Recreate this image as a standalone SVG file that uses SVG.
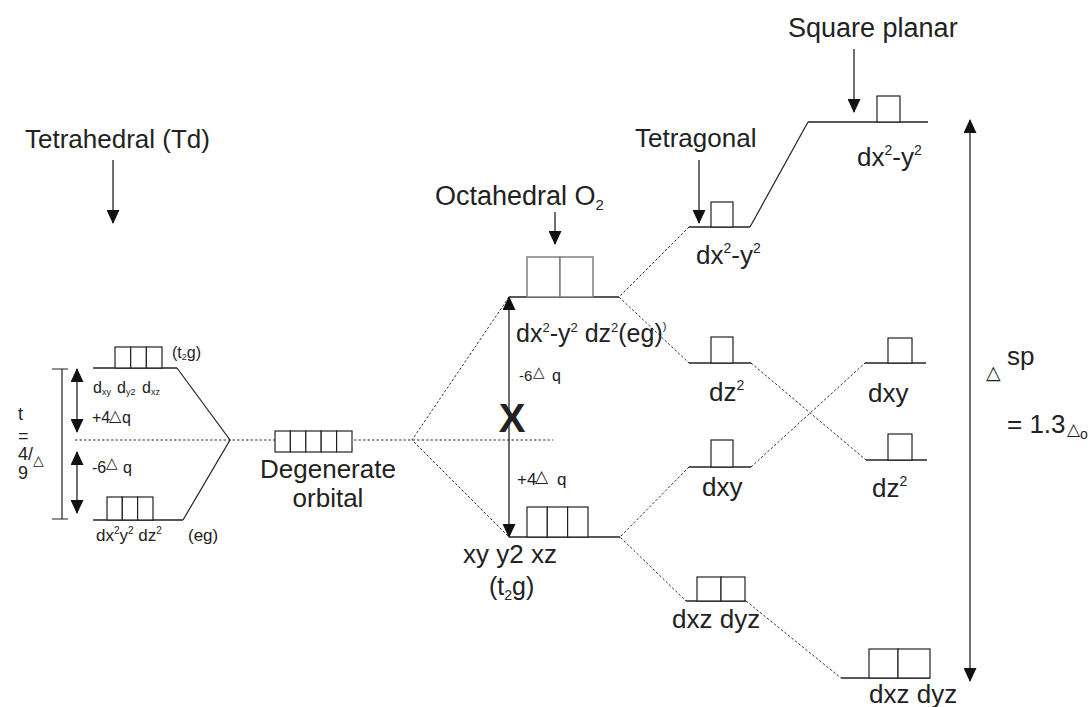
<svg xmlns="http://www.w3.org/2000/svg" width="1091" height="707" viewBox="0 0 1091 707">
<defs>
<marker id="ah" viewBox="0 0 14 13" refX="13" refY="6.5" markerWidth="14" markerHeight="13" markerUnits="userSpaceOnUse" orient="auto-start-reverse"><path d="M0,0 L14,6.5 L0,13 z" fill="#111"/></marker>
<style>
text{font-family:"Liberation Sans",Arial,sans-serif;fill:#222}
.t26{font-size:26px}
.t17{font-size:17px}
.tri{font-family:"DejaVu Sans",sans-serif}
.lvl{stroke:#222;stroke-width:1.4;fill:none}
.box{stroke:#222;stroke-width:1.2;fill:#fff}
.gbox{stroke:#777;stroke-width:1.4;fill:#fff}
.dash{stroke:#333;stroke-width:1;stroke-dasharray:2.5 2;fill:none}
.sol{stroke:#222;stroke-width:1.2;fill:none}
.arr{stroke:#222;stroke-width:1.3;fill:none;marker-end:url(#ah)}
.darr{stroke:#222;stroke-width:1.3;fill:none;marker-end:url(#ah);marker-start:url(#ah)}
</style>
</defs>
<rect width="1091" height="707" fill="#fff"/>

<g id="connectors">
<line class="dash" x1="75" y1="440" x2="553" y2="440"/>
<polyline class="sol" points="177,368 230,440 183,520"/>
<polyline class="dash" points="509,297 412,440 509,537"/>
<polyline class="dash" points="689,227 619,297 689,363"/>
<polyline class="dash" points="689,467 620,537 686,601"/>
<line class="sol" x1="750" y1="227" x2="808" y2="122"/>
<line class="dash" x1="751" y1="363" x2="866" y2="460"/>
<line class="dash" x1="751" y1="467" x2="865" y2="363"/>
<line class="dash" x1="746" y1="601" x2="841" y2="678"/>
<line class="arr" x1="113" y1="160" x2="113" y2="223"/>
<line class="arr" x1="555" y1="212" x2="555" y2="244"/>
<line class="arr" x1="699" y1="160" x2="699" y2="223"/>
<line class="arr" x1="854" y1="49" x2="854" y2="112"/>
<line class="darr" x1="970" y1="120" x2="970" y2="681"/>
<line class="darr" x1="77" y1="369" x2="77" y2="432"/>
<line class="darr" x1="77" y1="452" x2="77" y2="513"/>
<line class="darr" x1="509" y1="297" x2="509" y2="537"/>
<path class="sol" d="M52,369 H68 M62,369 V519 M52,519 H68"/>
</g>

<g id="titles">
<text class="t26" x="25" y="148">Tetrahedral (Td)</text>
<text class="t26" x="435" y="205" style="font-size:27px">Octahedral O<tspan font-size="15" dy="5">2</tspan></text>
<text class="t26" x="635" y="147">Tetragonal</text>
<text class="t26" x="788" y="37" style="font-size:27px">Square planar</text>
</g>

<g id="td-t2g">
<line class="lvl" x1="93" y1="368" x2="177" y2="368"/>
<rect class="box" x="115" y="347" width="15.7" height="21"/>
<rect class="box" x="130.7" y="347" width="15.7" height="21"/>
<rect class="box" x="146.4" y="347" width="15.6" height="21"/>
<text style="font-size:16px" x="172" y="358">(t<tspan font-size="9" dy="2">2</tspan><tspan dy="-2">g)</tspan></text>
<text style="font-size:16px" y="393"><tspan x="93">d</tspan><tspan x="102" font-size="9" dy="2">xy</tspan><tspan x="117" dy="-2">d</tspan><tspan x="126" font-size="9" dy="2">y2</tspan><tspan x="142" dy="-2">d</tspan><tspan x="151" font-size="9" dy="2">xz</tspan></text>
<text style="font-size:16px" x="92" y="423">+4</text>
<text class="tri" style="font-size:16px" x="109" y="421">△</text>
<text style="font-size:16px" x="122" y="423">q</text>
</g>

<g id="td-eg">
<line class="lvl" x1="93" y1="520" x2="183" y2="520"/>
<rect class="box" x="107" y="497" width="15.3" height="23"/>
<rect class="box" x="122.3" y="497" width="15.3" height="23"/>
<rect class="box" x="137.6" y="497" width="15.4" height="23"/>
<text class="t17" x="96" y="541">dx<tspan font-size="10" dy="-7">2</tspan><tspan dy="7">y</tspan><tspan font-size="10" dy="-7">2</tspan><tspan dy="7"> dz</tspan><tspan font-size="10" dy="-7">2</tspan></text>
<text class="t17" x="188" y="541">(eg)</text>
<text style="font-size:16px" x="92" y="473">-6</text>
<text class="tri" style="font-size:15px" x="106" y="468">△</text>
<text style="font-size:16px" x="123" y="473">q</text>
</g>

<g id="td-split">
<text style="font-size:18px" x="18" y="420">t</text>
<text style="font-size:18px" x="18" y="442">=</text>
<text style="font-size:18px" x="18" y="460">4/</text>
<text class="tri" style="font-size:14px" x="33" y="465">△</text>
<text style="font-size:18px" x="18" y="479">9</text>
</g>

<g id="degenerate">
<rect class="box" x="275" y="431" width="15.4" height="21"/>
<rect class="box" x="290.4" y="431" width="15.4" height="21"/>
<rect class="box" x="305.8" y="431" width="15.4" height="21"/>
<rect class="box" x="321.2" y="431" width="15.4" height="21"/>
<rect class="box" x="336.6" y="431" width="15.4" height="21"/>
<text class="t26" x="328" y="478" text-anchor="middle">Degenerate</text>
<text class="t26" x="328" y="507" text-anchor="middle">orbital</text>
</g>

<g id="oh-eg">
<line class="lvl" x1="509" y1="297" x2="619" y2="297"/>
<rect class="gbox" x="527" y="257" width="33" height="40"/>
<rect class="gbox" x="560" y="257" width="33" height="40"/>
<text style="font-size:25px" x="516" y="342">dx<tspan font-size="13" dy="-10">2</tspan><tspan dy="10">-y</tspan><tspan font-size="13" dy="-10">2</tspan><tspan dy="10"> dz</tspan><tspan font-size="13" dy="-10">2</tspan><tspan dy="10">(eg)</tspan><tspan font-size="11" dy="-12">)</tspan></text>
</g>

<g id="oh-split">
<text style="font-size:15px" x="519" y="381">-6</text>
<text class="tri" style="font-size:15px" x="533" y="377">△</text>
<text style="font-size:16px" x="552" y="381">q</text>
<text x="512" y="432" text-anchor="middle" style="font-size:40px;font-weight:bold">X</text>
<text style="font-size:17px" x="517" y="485">+4</text>
<text class="tri" style="font-size:17px" x="535" y="482">△</text>
<text style="font-size:17px" x="557" y="485">q</text>
</g>

<g id="oh-t2g">
<line class="lvl" x1="509" y1="537" x2="620" y2="537"/>
<rect class="box" x="527" y="507" width="20.3" height="30"/>
<rect class="box" x="547.3" y="507" width="20.3" height="30"/>
<rect class="box" x="567.6" y="507" width="20.4" height="30"/>
<text class="t26" x="463" y="563">xy y2 xz</text>
<text style="font-size:25px" x="489" y="595">(t<tspan font-size="14" dy="5">2</tspan><tspan dy="-5">g)</tspan></text>
</g>

<g id="tg-dx2y2">
<line class="lvl" x1="689" y1="227" x2="750" y2="227"/>
<rect class="box" x="711" y="202" width="22" height="25"/>
<text class="t26" x="696" y="264">dx<tspan font-size="14" dy="-11">2</tspan><tspan dy="11">-y</tspan><tspan font-size="14" dy="-11">2</tspan></text>
</g>

<g id="tg-dz2">
<line class="lvl" x1="689" y1="363" x2="751" y2="363"/>
<rect class="box" x="711" y="337" width="22" height="26"/>
<text class="t26" x="709" y="401">dz<tspan font-size="14" dy="-11">2</tspan></text>
</g>

<g id="tg-dxy">
<line class="lvl" x1="689" y1="467" x2="751" y2="467"/>
<rect class="box" x="711" y="440" width="22" height="27"/>
<text class="t26" x="702" y="496">dxy</text>
</g>

<g id="tg-dxzdyz">
<line class="lvl" x1="686" y1="601" x2="746" y2="601"/>
<rect class="box" x="697" y="577" width="24" height="24"/>
<rect class="box" x="721" y="577" width="24" height="24"/>
<text class="t26" x="672" y="628">dxz dyz</text>
</g>

<g id="sp-dx2y2">
<line class="lvl" x1="808" y1="122" x2="928" y2="122"/>
<rect class="box" x="877" y="96" width="23" height="26"/>
<text class="t26" x="857" y="166">dx<tspan font-size="14" dy="-11">2</tspan><tspan dy="11">-y</tspan><tspan font-size="14" dy="-11">2</tspan></text>
</g>

<g id="sp-dxy">
<line class="lvl" x1="865" y1="363" x2="926" y2="363"/>
<rect class="box" x="888" y="338" width="24" height="25"/>
<text class="t26" x="868" y="402">dxy</text>
</g>

<g id="sp-dz2">
<line class="lvl" x1="866" y1="460" x2="927" y2="460"/>
<rect class="box" x="888" y="434" width="24" height="26"/>
<text class="t26" x="872" y="497">dz<tspan font-size="14" dy="-11">2</tspan></text>
</g>

<g id="sp-dxzdyz">
<line class="lvl" x1="841" y1="678" x2="930" y2="678"/>
<rect class="box" x="869" y="649" width="29" height="29"/>
<rect class="box" x="898" y="649" width="32" height="29"/>
<text class="t26" x="869" y="703">dxz dyz</text>
</g>

<g id="sp-delta">
<text class="tri" style="font-size:19px" x="986" y="379">△</text>
<text class="t26" x="1007" y="365">sp</text>
<text class="t26" x="1007" y="433">= 1.3</text>
<text class="tri" style="font-size:17px" x="1067" y="435">△</text>
<text style="font-size:14px" x="1080" y="439">o</text>
</g>
</svg>
